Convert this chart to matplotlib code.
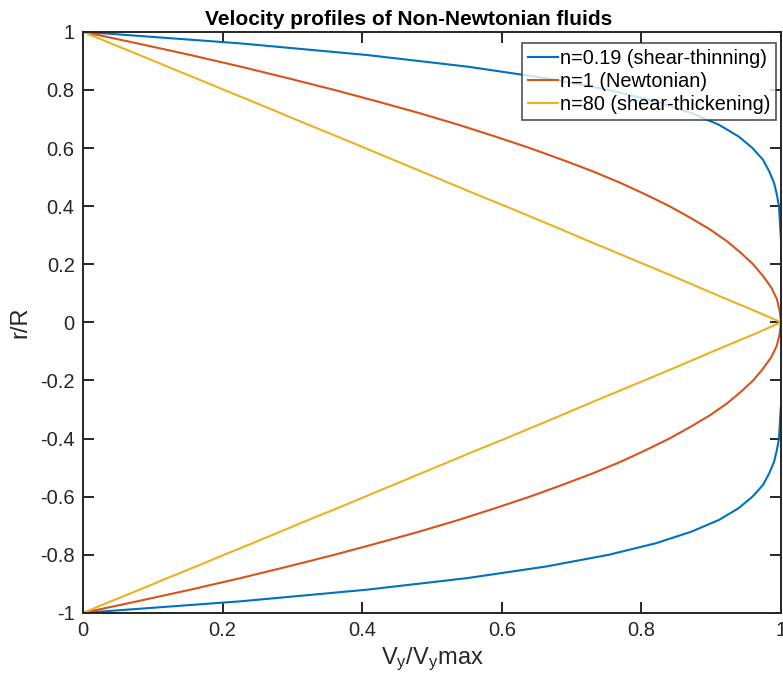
import numpy as np
import matplotlib.pyplot as plt

plt.rcParams['font.family'] = ['Liberation Sans', 'DejaVu Sans']
plt.rcParams['mathtext.default'] = 'regular'
plt.rcParams['axes.unicode_minus'] = False

# radial positions r/R for the upper half of the pipe (0 .. 1)
r_half = [0.00, 0.04, 0.08, 0.12, 0.16, 0.20, 0.24, 0.28, 0.32, 0.36, 0.40,
          0.44, 0.48, 0.52, 0.56, 0.60, 0.64, 0.68, 0.72, 0.76, 0.80, 0.84,
          0.88, 0.92, 0.96, 1.00]

# V/Vmax at each r for the three flow indices
v_thin = [1.000, 1.000, 1.000, 1.000, 1.000, 1.000, 1.000, 1.000, 0.999, 0.998,
          0.997, 0.994, 0.990, 0.983, 0.974, 0.959, 0.939, 0.911, 0.872, 0.821,
          0.753, 0.664, 0.551, 0.407, 0.226, 0.000]
v_newt = [1.000, 0.998, 0.994, 0.986, 0.974, 0.960, 0.942, 0.922, 0.898, 0.870,
          0.840, 0.806, 0.770, 0.730, 0.686, 0.640, 0.590, 0.538, 0.482, 0.422,
          0.360, 0.294, 0.226, 0.154, 0.078, 0.000]
v_thick = [1.000, 0.962, 0.922, 0.883, 0.844, 0.804, 0.764, 0.724, 0.685, 0.645,
           0.605, 0.564, 0.524, 0.484, 0.444, 0.404, 0.364, 0.323, 0.283, 0.243,
           0.202, 0.162, 0.121, 0.081, 0.040, 0.000]

labels = ['n=0.19 (shear-thinning)', 'n=1 (Newtonian)', 'n=80 (shear-thickening)']
colors = ['#0072BD', '#D95319', '#EDB120']


def full_profile(v):
    # profile is symmetric about the pipe axis
    r = np.array(r_half)
    v = np.array(v)
    return np.concatenate([v[::-1], v[1:]]), np.concatenate([-r[::-1], r[1:]])


fig = plt.figure(figsize=(7.83, 6.91), dpi=100)
ax = fig.add_axes([0.106, 0.113, 0.8915, 0.841])

for v, lab, c in zip([v_thin, v_newt, v_thick], labels, colors):
    x, y = full_profile(v)
    ax.plot(x, y, color=c, lw=1.5, label=lab)

ax.set_xlim(0, 1)
ax.set_ylim(-1, 1)
ax.set_xticks([0, 0.2, 0.4, 0.6, 0.8, 1])
ax.set_xticklabels(['0', '0.2', '0.4', '0.6', '0.8', '1'])
ax.set_yticks(np.round(np.arange(-1, 1.01, 0.2), 1))
ax.set_yticklabels(['-1', '-0.8', '-0.6', '-0.4', '-0.2', '0', '0.2', '0.4', '0.6', '0.8', '1'])

for s in ax.spines.values():
    s.set_color('#262626')
    s.set_linewidth(1.4)
ax.tick_params(direction='in', top=True, right=True, length=8, width=1.4,
               colors='#262626', labelsize=14.5, pad=6)

ax.set_title('Velocity profiles of Non-Newtonian fluids', fontsize=15,
             fontweight='bold', pad=5, x=0.467)
ax.set_xlabel('V$_y$/V$_y$max', fontsize=17, color='#262626', labelpad=4)
ax.set_ylabel('r/R', fontsize=17, color='#262626', labelpad=6)

leg = ax.legend(loc='upper right', bbox_to_anchor=(0.993, 0.981), borderaxespad=0,
                fontsize=14.3, frameon=True, fancybox=False, handlelength=1.5,
                handletextpad=0.1, borderpad=0.3, labelspacing=0.2)
leg.get_frame().set_edgecolor('#262626')
leg.get_frame().set_linewidth(1.2)

fig.savefig('out.png', dpi=100)
